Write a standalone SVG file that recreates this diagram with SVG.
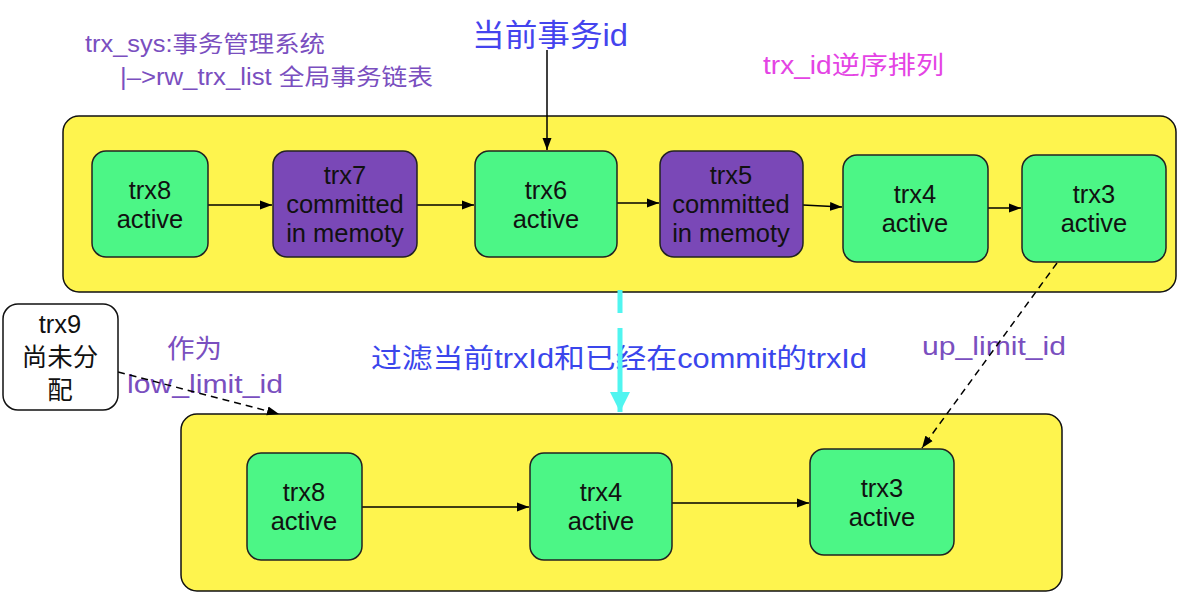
<svg xmlns="http://www.w3.org/2000/svg" width="1192" height="597" viewBox="0 0 1192 597">
<defs>
<style>
.cont{fill:#FEF44E;stroke:#111;stroke-width:1.5}
.g{fill:#4CF686;stroke:#222;stroke-width:1.5}
.p{fill:#7A48B7;stroke:#222;stroke-width:1.5}
.w{fill:#fff;stroke:#111;stroke-width:1.5}
.t{font-family:"Liberation Sans","Noto Sans CJK SC",sans-serif;font-size:25.5px;fill:#111;text-anchor:middle}
.lbl{font-family:"Liberation Sans","Noto Sans CJK SC",sans-serif}
.c{stroke:#000;stroke-width:1.5;fill:none}
.d{stroke:#000;stroke-width:1.5;fill:none;stroke-dasharray:7 5}
</style>
<marker id="ah" viewBox="0 0 12 10" refX="12" refY="5" markerWidth="12" markerHeight="10" markerUnits="userSpaceOnUse" orient="auto">
<path d="M0,0.5 L12,5 L0,9.5 z" fill="#000"/>
</marker>
<marker id="ahc" viewBox="0 0 10 10" refX="10" refY="5" markerWidth="24" markerHeight="20" markerUnits="userSpaceOnUse" orient="auto">
<path d="M0,0 L10,5 L0,10 z" fill="#50F5F0"/>
</marker>
</defs>

<rect id="top-container" class="cont" x="63" y="116" width="1113" height="176" rx="16"/>
<rect id="bottom-container" class="cont" x="181" y="414" width="881" height="177" rx="16"/>

<text class="lbl" x="85" y="52" font-size="23" fill="#7A4FBF" textLength="240" lengthAdjust="spacingAndGlyphs">trx_sys:事务管理系统</text>
<text class="lbl" x="120" y="85" font-size="23" fill="#7A4FBF" textLength="313" lengthAdjust="spacingAndGlyphs">|–&gt;rw_trx_list 全局事务链表</text>
<text class="lbl" x="472" y="46" font-size="31" fill="#4444EE" textLength="156" lengthAdjust="spacingAndGlyphs">当前事务id</text>
<text class="lbl" x="763" y="74" font-size="25" fill="#E444E4" textLength="181" lengthAdjust="spacingAndGlyphs">trx_id逆序排列</text>
<text class="lbl" x="371" y="368" font-size="27" fill="#3A46EC" textLength="496" lengthAdjust="spacingAndGlyphs">过滤当前trxId和已经在commit的trxId</text>
<text class="lbl" x="922" y="355" font-size="26" fill="#7A4FBF" textLength="144" lengthAdjust="spacingAndGlyphs">up_limit_id</text>
<text class="lbl" x="167" y="358" font-size="26" fill="#7A4FBF" textLength="55" lengthAdjust="spacingAndGlyphs">作为</text>
<text class="lbl" x="127" y="393" font-size="26" fill="#7A4FBF" textLength="156" lengthAdjust="spacingAndGlyphs">low_limit_id</text>

<g id="connectors">
<line class="c" x1="547" y1="50" x2="547" y2="150" marker-end="url(#ah)"/>
<line class="c" x1="208" y1="205" x2="272" y2="205" marker-end="url(#ah)"/>
<line class="c" x1="417" y1="205" x2="474" y2="205" marker-end="url(#ah)"/>
<line class="c" x1="617" y1="203" x2="659" y2="203" marker-end="url(#ah)"/>
<line class="c" x1="803" y1="205" x2="842" y2="207" marker-end="url(#ah)"/>
<line class="c" x1="988" y1="208" x2="1021" y2="208" marker-end="url(#ah)"/>
<line class="c" x1="362" y1="507" x2="529" y2="507" marker-end="url(#ah)"/>
<line class="c" x1="672" y1="503" x2="809" y2="503" marker-end="url(#ah)"/>
<line class="d" x1="1057" y1="263" x2="922" y2="448" marker-end="url(#ah)"/>
<line class="d" x1="118" y1="372" x2="279" y2="414" marker-end="url(#ah)"/>
<path d="M620,290 L620,412" stroke="#50F5F0" stroke-width="5" fill="none" stroke-dasharray="23 15 200" marker-end="url(#ahc)"/>
</g>

<g id="trx8-top"><rect class="g" x="92" y="151" width="116" height="106" rx="14"/><text class="t" x="150" y="199">trx8</text><text class="t" x="150" y="228">active</text></g>
<g id="trx7-top"><rect class="p" x="273" y="151" width="144" height="106" rx="14"/><text class="t" x="345" y="184">trx7</text><text class="t" x="345" y="213">committed</text><text class="t" x="345" y="242">in memoty</text></g>
<g id="trx6-top"><rect class="g" x="475" y="151" width="142" height="106" rx="14"/><text class="t" x="546" y="199">trx6</text><text class="t" x="546" y="228">active</text></g>
<g id="trx5-top"><rect class="p" x="660" y="151" width="143" height="106" rx="14"/><text class="t" x="731" y="184">trx5</text><text class="t" x="731" y="213">committed</text><text class="t" x="731" y="242">in memoty</text></g>
<g id="trx4-top"><rect class="g" x="843" y="155" width="145" height="107" rx="14"/><text class="t" x="915" y="203">trx4</text><text class="t" x="915" y="232">active</text></g>
<g id="trx3-top"><rect class="g" x="1022" y="155" width="144" height="107" rx="14"/><text class="t" x="1094" y="203">trx3</text><text class="t" x="1094" y="232">active</text></g>

<g id="trx9"><rect class="w" x="3" y="304" width="115" height="106" rx="15"/><text class="t" x="60" y="333">trx9</text><text class="t" x="60" y="366">尚未分</text><text class="t" x="60" y="399">配</text></g>

<g id="trx8-bottom"><rect class="g" x="247" y="453" width="115" height="107" rx="14"/><text class="t" x="304" y="501">trx8</text><text class="t" x="304" y="530">active</text></g>
<g id="trx4-bottom"><rect class="g" x="530" y="453" width="142" height="107" rx="14"/><text class="t" x="601" y="501">trx4</text><text class="t" x="601" y="530">active</text></g>
<g id="trx3-bottom"><rect class="g" x="810" y="449" width="144" height="106" rx="14"/><text class="t" x="882" y="497">trx3</text><text class="t" x="882" y="526">active</text></g>
</svg>
